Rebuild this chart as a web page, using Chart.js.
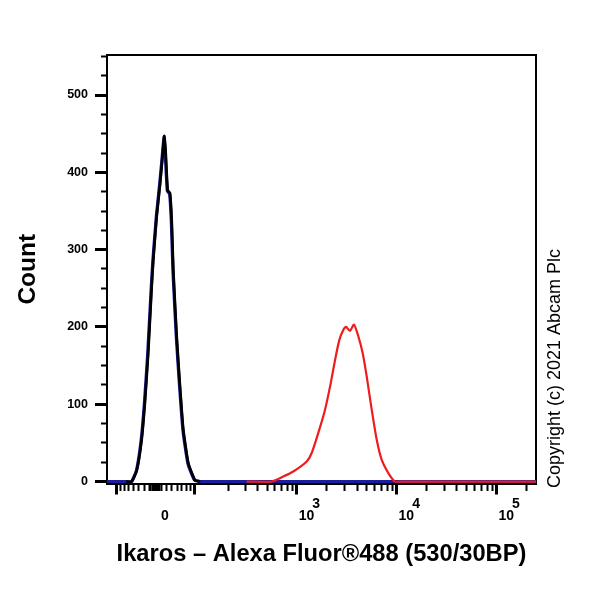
<!DOCTYPE html>
<html>
<head>
<meta charset="utf-8">
<script src="https://cdn.jsdelivr.net/npm/chart.js@4/dist/chart.umd.min.js"></script>
<style>
html,body{margin:0;padding:0;background:#fff;}
#wrap{width:600px;height:600px;position:relative;}
</style>
</head>
<body>
<div id="wrap"><canvas id="c" width="600" height="600"></canvas></div>
<script>
// ---------- texts ----------
const xTitle = 'Ikaros \u2013 Alexa Fluor\u00AE488 (530/30BP)';
const yTitle = 'Count';
const creditText = 'Copyright (c) 2021 Abcam Plc';

// ---------- data (fluorescence channel value, count) ----------
const isotypeX = [-56, -44, -34, -25, -19, -13, -6.8, -3.9, 2.1, 8, 12.5, 15.7, 17.9, 21.9, 26.2, 29.4, 32.5, 39.1, 45.8, 52.8, 63.9, 80, 94];
const isotypeY = [0, 0, 15, 54, 102, 166, 252, 287, 343, 384, 420, 447, 430, 377, 373, 338, 274, 188, 123, 67, 24, 2, 0];

const controlX = [-105, -60, -45, -35, -26, -20, -14, -7.6, -4.6, 1.4, 7.2, 11.8, 15.2, 17.2, 21.2, 25.5, 28.7, 31.8, 38.4, 45.1, 52.1, 63.2, 79, 95, 400, 5000, 247000];
const controlY = [0, 0, 0, 14, 53, 100, 164, 250, 286, 342, 383, 419, 445, 429, 376, 372, 337, 273, 187, 122, 66, 23, 2, 0, 0, 0, 0];

const ikarosX = [310, 558, 730, 919, 1254, 1407, 1638, 1913, 2180, 2408, 2658, 2915, 3102, 3402, 3731, 4120, 4558, 4998, 5609, 6296, 7064, 8223, 9596, 10772, 247000];
const ikarosY = [0, 0, 6.5, 13, 26, 37, 63, 93, 127, 157, 183, 196, 200, 195, 203, 188, 166, 136, 93, 54, 28, 11, 0, 0, 0];

// ---------- axes ----------
const xMin = -105, xMax = 247000;
const yMin = -2.5, yMax = 551.8;
const yTickValues = [0,25,50,75,100,125,150,175,200,225,250,275,300,325,350,375,400,425,450,475,500,525,550];
const yLabelStep = 100;
const xMajorTicks = [-80, 80, 1000, 10000, 100000];
const xMinorTicks = [-70,-60,-50,-40,-30,-20,-10,-8,-6,-4,-2,0,2,4,6,8,10,20,30,40,50,60,70,
  200,300,400,500,600,700,800,900,
  2000,3000,4000,5000,6000,7000,8000,9000,
  20000,30000,40000,50000,60000,70000,80000,90000,200000];
const xLabelValues = [0, 1000, 10000, 100000];
const xLabelExponents = ['', '3', '4', '5'];
const xLabelBases = ['0', '10', '10', '10'];

// ---------- biexponential-like (arcsinh) scale ----------
const COF = 77;
const T = v => Math.asinh(v / COF);
class BiexScale extends Chart.LinearScale {
  determineDataLimits() {
    this.min = this.options.min;
    this.max = this.options.max;
  }
  buildTicks() {
    this.start = this.min; this.end = this.max;
    const all = xMajorTicks.concat(xMinorTicks).sort((a,b)=>a-b);
    return all.filter(v => v >= this.min && v <= this.max).map(v => ({value: v, major: xMajorTicks.includes(v)}));
  }
  configure() {
    super.configure();
    this._tMin = T(this.min);
    this._tMax = T(this.max);
  }
  getPixelForValue(v) {
    return this.getPixelForDecimal((T(v) - this._tMin) / (this._tMax - this._tMin));
  }
  getValueForPixel(p) {
    const d = this.getDecimalForPixel(p);
    return COF * Math.sinh(this._tMin + d * (this._tMax - this._tMin));
  }
}
BiexScale.id = 'biex';
BiexScale.defaults = {};
Chart.register(BiexScale);

const FONT = 'Arial, "Liberation Sans", sans-serif';
const toPts = (xs, ys) => xs.map((x, i) => ({x: x, y: ys[i]}));

const creditPlugin = {
  id: 'credit',
  afterDraw(chart) {
    const ctx = chart.ctx;
    ctx.save();
    ctx.translate(555, 368.5);
    ctx.rotate(-Math.PI / 2);
    ctx.font = '18px ' + FONT;
    ctx.fillStyle = '#000';
    ctx.textAlign = 'center';
    ctx.textBaseline = 'middle';
    ctx.fillText(creditText, 0, 0);
    ctx.restore();
  }
};

new Chart(document.getElementById('c'), {
  type: 'line',
  data: {
    datasets: [
      {label: 'Isotype', data: toPts(isotypeX, isotypeY), borderColor: '#000000', borderWidth: 2.8, pointRadius: 0, tension: 0.15},
      {label: 'Ikaros', data: toPts(ikarosX, ikarosY), borderColor: '#ee1c1c', borderWidth: 2.2, pointRadius: 0, tension: 0.2},
      {label: 'Control', data: toPts(controlX, controlY), borderColor: '#1c1c9c', borderWidth: 3.2, pointRadius: 0, tension: 0.15}
    ]
  },
  options: {
    responsive: false,
    animation: false,
    devicePixelRatio: 1,
    layout: {padding: {left: 0, top: 55, right: 64, bottom: 0}},
    plugins: {legend: {display: false}, tooltip: {enabled: false}},
    scales: {
      x: {
        type: 'biex', position: 'bottom', min: xMin, max: xMax,
        border: {display: true, color: '#000', width: 2},
        grid: {
          display: true, drawOnChartArea: false, drawTicks: true, tickLength: 11,
          tickColor: '#000',
          tickWidth: c => (c.tick && xMajorTicks.includes(c.tick.value)) ? 3 : 2,
          tickBorderDash: c => (c.tick && xMajorTicks.includes(c.tick.value)) ? [] : [6, 40]
        },
        ticks: {
          autoSkip: false, maxRotation: 0, minRotation: 0, padding: 4, labelOffset: 9.5,
          color: '#000',
          font: {family: FONT, size: 14, weight: 'bold', lineHeight: 0.86},
          callback: (v) => {
            const i = xLabelValues.indexOf(v);
            if (i < 0) return '';
            return [xLabelExponents[i] ? '     ' + xLabelExponents[i] : '', xLabelBases[i]];
          }
        },
        title: {display: true, text: xTitle, color: '#000', font: {family: FONT, size: 23.7, weight: 'bold'}, padding: {top: 0, bottom: 31}},
        afterFit: s => { s.height = 116.5; }
      },
      y: {
        type: 'linear', position: 'left', min: yMin, max: yMax,
        border: {display: true, color: '#000', width: 2},
        grid: {
          display: true, drawOnChartArea: false, drawTicks: true, tickLength: 12,
          tickColor: '#000',
          tickWidth: c => (c.tick && c.tick.value % yLabelStep === 0) ? 3 : 2,
          tickBorderDash: c => (c.tick && c.tick.value % yLabelStep === 0) ? [] : [0, 6, 6, 40]
        },
        afterBuildTicks: s => { s.ticks = yTickValues.map(v => ({value: v})); },
        ticks: {
          autoSkip: false, padding: 7, color: '#000',
          font: {family: FONT, size: 12.5, weight: 'bold'},
          callback: v => (v % yLabelStep === 0 ? String(v) : '')
        },
        title: {display: true, text: yTitle, color: '#000', font: {family: FONT, size: 24.5, weight: 'bold'}, padding: {top: 14, bottom: 0}},
        afterFit: s => { s.width = 107; }
      },
      xTop: {
        type: 'linear', position: 'top', display: true,
        border: {display: true, color: '#000', width: 2},
        grid: {display: false, drawTicks: false, drawOnChartArea: false},
        ticks: {display: false},
        afterFit: s => { s.height = 0; }
      },
      yRight: {
        type: 'linear', position: 'right', display: true,
        border: {display: true, color: '#000', width: 2},
        grid: {display: false, drawTicks: false, drawOnChartArea: false},
        ticks: {display: false},
        afterFit: s => { s.width = 0; }
      }
    }
  },
  plugins: [creditPlugin]
});
</script>
</body>
</html>
